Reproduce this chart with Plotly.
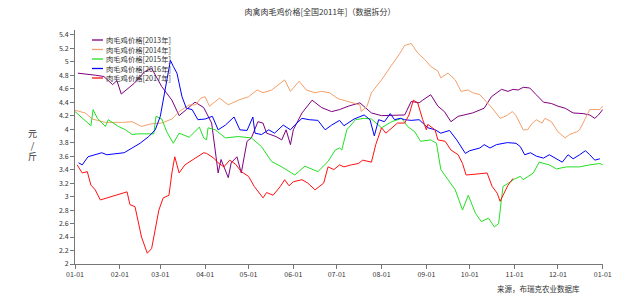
import pandas as pd
import plotly.graph_objects as go

title = "肉禽肉毛鸡价格[全国2011年]（数据拆分）"
source = "来源，布瑞克农业数据库"
y_title = "元<br>/<br>斤"
names = ["肉毛鸡价格[2013年]", "肉毛鸡价格[2014年]", "肉毛鸡价格[2015年]",
         "肉毛鸡价格[2016年]", "肉毛鸡价格[2017年]"]
colors = ["#800080", "#F4A06A", "#22E022", "#0000FF", "#FF1010"]

# day-of-year offsets and prices (元/斤)
d2013 = [2, 7, 14, 20, 26, 29, 32, 41, 48, 53, 60, 67, 72, 77, 83, 89, 91, 94.5, 99, 101, 106, 108,
         112, 115, 119, 122, 126.5, 130, 132.5, 139, 143, 146, 149, 151, 157, 164, 170.5, 177.5, 183,
         189, 197, 200, 205, 212, 219, 228, 232.5, 238, 240.5, 246, 251, 255.5, 260, 265, 269, 275,
         283, 288, 295, 299.5, 303, 306.5, 310, 314.5, 319, 324, 329.5, 334, 339, 344.5, 351.5, 356,
         359.5, 362, 365]
v2013 = [4.83, 4.82, 4.80, 4.78, 4.66, 4.72, 4.52, 4.68, 4.85, 4.90, 4.63, 4.43, 4.20, 4.29, 4.40,
         4.32, 4.24, 4.09, 3.35, 3.55, 3.28, 3.50, 3.59, 3.35, 3.82, 3.87, 4.11, 4.09, 3.94, 3.89, 3.84,
         3.99, 3.77, 3.99, 4.24, 4.43, 4.32, 4.26, 4.29, 4.34, 4.39, 4.33, 4.24, 4.20, 4.20, 4.21, 4.41,
         4.39, 4.43, 4.51, 4.34, 4.26, 4.11, 4.19, 4.21, 4.24, 4.31, 4.48, 4.59, 4.56, 4.59, 4.58, 4.62,
         4.61, 4.51, 4.40, 4.38, 4.34, 4.31, 4.24, 4.23, 4.21, 4.16, 4.21, 4.29]

d2014 = [0, 7, 12, 21, 33, 39.5, 46, 53, 60, 67, 72, 79, 83.5, 87, 90, 93, 100, 106, 113, 120, 126,
         130, 136, 145, 149, 155, 160, 166, 170.5, 176, 182, 191, 197, 198, 202, 205, 212, 219, 224,
         228, 232.5, 237, 242, 246, 251, 253, 258, 263, 267, 272, 275, 280, 284.5, 289, 294, 298.5,
         302.5, 305, 310, 313, 316, 319, 323, 325, 329.5, 334, 339, 342, 347, 349, 353, 356, 363, 365]
v2014 = [4.28, 4.24, 4.15, 4.10, 4.10, 4.11, 4.04, 4.08, 4.09, 4.15, 4.26, 4.36, 4.36, 4.46, 4.48,
         4.34, 4.46, 4.36, 4.43, 4.48, 4.58, 4.54, 4.58, 4.73, 4.56, 4.71, 4.58, 4.54, 4.56, 4.54, 4.45,
         4.40, 4.36, 4.26, 4.34, 4.54, 4.73, 4.95, 5.10, 5.24, 5.27, 5.13, 5.03, 4.93, 4.86, 4.76, 4.83,
         4.73, 4.56, 4.58, 4.54, 4.51, 4.41, 4.30, 4.16, 4.20, 4.26, 4.20, 3.99, 3.99, 4.08, 4.14, 4.09,
         4.16, 4.11, 3.96, 3.87, 3.92, 3.96, 3.99, 4.16, 4.29, 4.29, 4.34]

d2015 = [0, 5, 11, 12.5, 15.5, 21, 23, 30, 35, 39.5, 44, 54.5, 56, 60, 63.5, 68, 72, 79, 86, 89, 91,
         92, 97, 104, 113, 122, 129, 136, 143, 152, 159, 168, 175, 180, 183, 184.5, 188, 194, 200,
         205, 212, 219, 226, 230, 235, 239, 246, 250, 253, 258, 263, 268, 272, 277, 281, 286, 290,
         293, 296, 299, 304, 308, 310, 317, 321, 328, 333, 340, 349, 356, 363, 365]
v2015 = [4.26, 4.16, 4.05, 4.29, 4.16, 4.04, 4.14, 4.04, 3.99, 3.92, 3.93, 3.93, 4.19, 4.15, 3.96,
         3.79, 3.94, 3.88, 4.03, 3.87, 3.84, 4.02, 3.99, 3.87, 3.89, 3.87, 3.74, 3.52, 3.44, 3.32, 3.45,
         3.37, 3.52, 3.69, 3.72, 3.69, 3.99, 4.14, 4.16, 4.15, 4.02, 4.11, 4.16, 4.04, 3.96, 3.82, 3.84,
         3.79, 3.40, 3.25, 3.10, 2.80, 3.02, 2.75, 2.63, 2.68, 2.55, 2.60, 3.15, 3.19, 3.26, 3.30, 3.25,
         3.35, 3.51, 3.47, 3.41, 3.44, 3.44, 3.47, 3.49, 3.47]

d2016 = [2.5, 5, 9, 14, 18.5, 22, 27, 34, 39.5, 45, 51, 55.5, 59, 62.5, 66, 68, 70.5, 74, 77, 81, 85,
         90, 95, 99, 104, 110, 114, 119, 123, 124.5, 129, 134, 138, 144, 149, 152, 157, 162, 168, 173,
         177.5, 183, 186, 193, 200, 204, 207, 210, 214, 218, 221, 225, 228, 232.5, 238, 244, 249, 253,
         259, 264, 270, 273, 280, 283, 287, 291.5, 299, 305, 308, 311, 315, 319, 324, 328, 333, 337,
         341, 344.5, 349, 353, 356, 359.5, 363]
v2016 = [3.50, 3.47, 3.59, 3.62, 3.65, 3.62, 3.63, 3.65, 3.72, 3.79, 3.89, 3.99, 4.19, 4.58, 5.02,
         4.93, 4.83, 4.48, 4.31, 4.29, 4.14, 4.15, 4.19, 3.99, 4.06, 4.18, 3.99, 3.98, 4.18, 3.94, 3.92,
         3.99, 3.94, 4.06, 3.99, 4.06, 4.16, 4.14, 4.13, 3.99, 4.06, 4.13, 4.05, 4.15, 4.21, 4.14, 3.90,
         4.14, 4.11, 4.23, 4.14, 4.16, 4.14, 4.13, 4.14, 4.02, 3.99, 3.94, 3.98, 3.84, 3.64, 3.68, 3.72,
         3.77, 3.72, 3.77, 3.80, 3.79, 3.74, 3.62, 3.65, 3.60, 3.57, 3.62, 3.56, 3.51, 3.62, 3.56, 3.62,
         3.68, 3.62, 3.54, 3.56]

d2017 = [1.5, 5, 8.5, 11, 14, 17.5, 36, 38, 41.5, 46, 50, 53, 58, 61, 65, 67, 69, 72, 76, 83, 89,
         91, 96, 99, 103, 107, 111, 115, 120, 124, 130, 132.5, 137, 142, 145, 148, 151, 157, 161, 166,
         172, 175, 179, 183, 186, 191, 196, 199, 205, 208, 212, 215, 220, 223, 228, 231, 234, 237,
         240.5, 243, 244, 249, 251, 256, 260, 265, 268, 270.5, 276, 285, 288.5, 292, 294, 297.5,
         299.5, 303]
v2017 = [3.47, 3.35, 3.37, 3.17, 3.10, 2.95, 3.07, 2.88, 2.85, 2.40, 2.16, 2.23, 2.80, 2.98, 3.02,
         3.35, 3.59, 3.35, 3.47, 3.57, 3.65, 3.64, 3.57, 3.50, 3.44, 3.54, 3.48, 3.37, 3.30, 3.15, 2.98,
         3.06, 3.02, 3.15, 3.25, 3.16, 3.22, 3.25, 3.20, 3.10, 3.20, 3.44, 3.40, 3.47, 3.44, 3.47, 3.49,
         3.54, 3.51, 3.77, 4.02, 3.94, 4.04, 4.09, 4.09, 4.21, 4.43, 4.39, 4.14, 3.99, 4.07, 3.99, 3.84,
         3.82, 3.69, 3.62, 3.49, 3.32, 3.33, 3.35, 3.15, 3.05, 2.93, 3.10, 3.17, 3.27]

days = [d2013, d2014, d2015, d2016, d2017]
vals = [v2013, v2014, v2015, v2016, v2017]

base = pd.Timestamp("2011-01-01")
FONT = "Noto Sans CJK SC"

fig = go.Figure()
for n, c, d, v in zip(names, colors, days, vals):
    x = base + pd.to_timedelta(d, unit="D")
    fig.add_trace(go.Scatter(x=x, y=v, mode="lines", name=n,
                             line=dict(color=c, width=1), showlegend=False))

W, H = 640, 297
L, R, T, B = 75, 37, 30, 33
pw, ph = W - L - R, H - T - B

def px2paper(px, py):
    return (px - L) / pw, (H - B - py) / ph

annotations = []
shapes = []
step = 9.5
for i, c in enumerate(colors):
    py = 40 + step * i
    x0, y0 = px2paper(92, py)
    x1, _ = px2paper(103, py)
    shapes.append(dict(type="line", xref="paper", yref="paper", x0=x0, x1=x1, y0=y0, y1=y0,
                       line=dict(color=c, width=1.3)))
# legend labels as one multi-line text block
tx, ty = px2paper(104, 40 + step * 2)
annotations.append(dict(text="<br>".join(names), xref="paper", yref="paper", x=tx, y=ty,
                        xanchor="left", yanchor="middle", align="left", showarrow=False,
                        font=dict(family=FONT, size=step / 1.3, color="#333")))

ax, ay = px2paper(32, 145)
annotations.append(dict(text=y_title, xref="paper", yref="paper", x=ax, y=ay, showarrow=False,
                        xanchor="center", yanchor="middle",
                        font=dict(family=FONT, size=9, color="#333")))
sx, sy = px2paper(582, 288)
annotations.append(dict(text=source, xref="paper", yref="paper", x=sx, y=sy, showarrow=False,
                        xanchor="right", yanchor="middle",
                        font=dict(family=FONT, size=7.5, color="#333")))

fig.update_layout(
    width=W, height=H,
    margin=dict(l=L, r=R, t=T, b=B),
    paper_bgcolor="white", plot_bgcolor="white",
    title=dict(text=title, x=320 / W, xanchor="center", y=1 - 12 / H, yanchor="middle",
               font=dict(family=FONT, size=8, color="#333")),
    xaxis=dict(type="date", range=[base, base + pd.Timedelta(days=365, hours=4)],
               tick0=base, dtick="M1", tickformat="%m-%d",
               showgrid=False, zeroline=False, showline=True, linecolor="#777", linewidth=1,
               ticks="outside", ticklen=4, tickcolor="#777",
               tickfont=dict(family=FONT, size=7, color="#333")),
    yaxis=dict(range=[2, 5.47], tick0=2, dtick=0.2, showgrid=False, zeroline=False,
               showline=True, linecolor="#777", linewidth=1,
               ticks="outside", ticklen=4, tickcolor="#777",
               tickfont=dict(family=FONT, size=7, color="#333")),
    annotations=annotations, shapes=shapes,
)

fig.write_html("out.html")
